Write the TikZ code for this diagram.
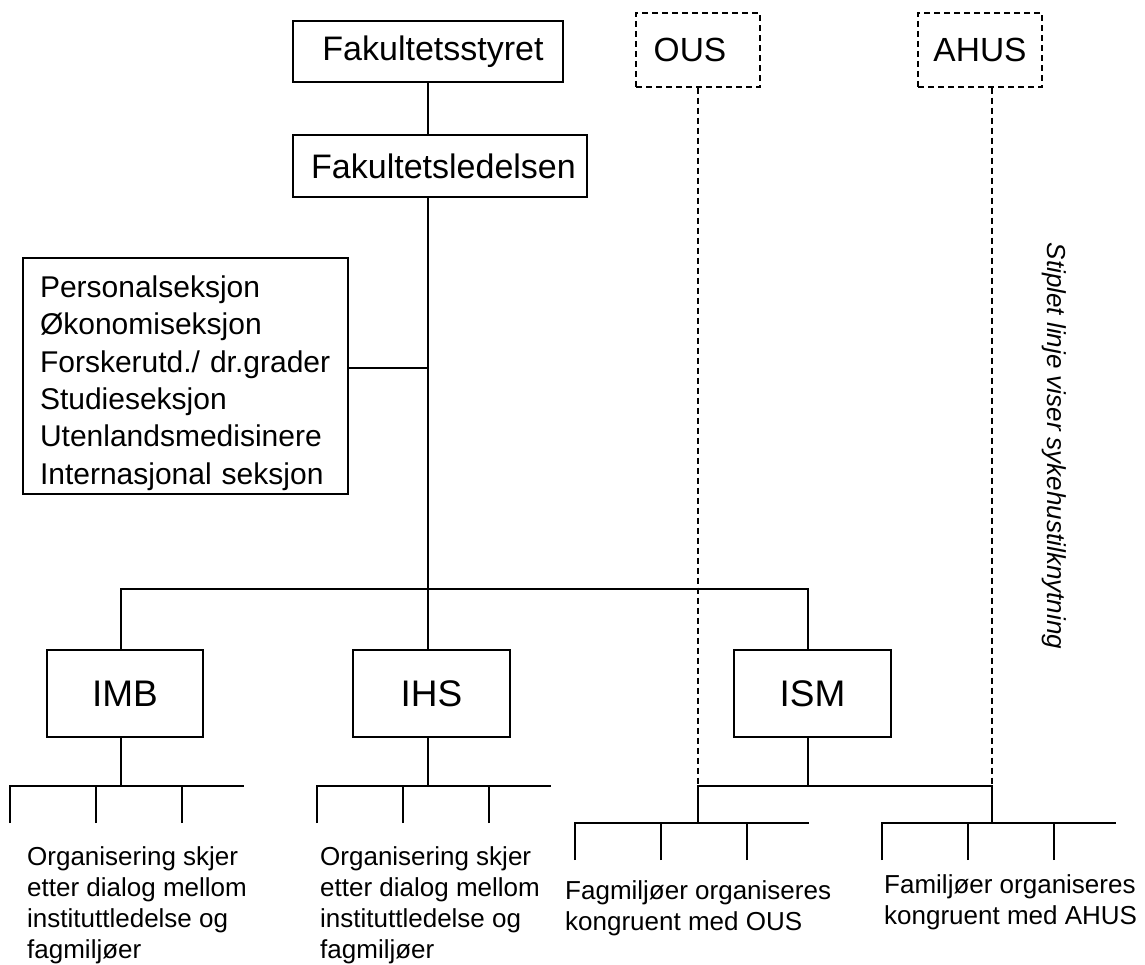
\documentclass[tikz,border=0pt]{standalone}
\usepackage{fontspec}
\setmainfont{Liberation Sans}
\begin{document}
\begin{tikzpicture}[x=1pt,y=-1pt,
 box/.style={draw, line width=1.6pt, inner sep=0pt, align=center},
 dbox/.style={draw, dash pattern=on 6pt off 4pt, line width=1.4pt, inner sep=0pt},
 link/.style={line width=1.6pt},
 dlink/.style={line width=1.4pt, dash pattern=on 6pt off 4pt},
 note/.style={align=left, inner sep=0pt, anchor=north west, font=\fontsize{26}{31}\selectfont}]
\useasboundingbox (0,0) rectangle (1145,965);

% boxes
\node[box, minimum width=270pt, minimum height=61pt, font=\fontsize{34}{40}\selectfont] (fs) at (428,51.5) {\hspace*{10pt}Fakultetsstyret};
\node[box, minimum width=294pt, minimum height=62pt, font=\fontsize{34}{40}\selectfont] (fl) at (440,166) {\hspace*{7pt}Fakultetsledelsen};
\node[box, minimum width=325pt, minimum height=236pt, text width=291pt, inner xsep=17pt, align=left, font=\fontsize{30}{37.3}\selectfont] (sec) at (185.5,376)
 {\rule{0pt}{36pt}Personalseksjon\\Økonomiseksjon\\Forskerutd./ dr.grader\\Studieseksjon\\Utenlandsmedisinere\\Internasjonal seksjon};
\node[dbox, minimum width=124pt, minimum height=74pt, font=\fontsize{33.5}{40}\selectfont] (ous) at (698,50) {\hspace*{-16pt}OUS};
\node[dbox, minimum width=124pt, minimum height=74pt, font=\fontsize{33.5}{40}\selectfont] (ahus) at (980,50) {AHUS};
\node[box, minimum width=156pt, minimum height=87pt, font=\fontsize{37}{44}\selectfont] (imb) at (125,693.5) {IMB};
\node[box, minimum width=157pt, minimum height=87pt, font=\fontsize{37}{44}\selectfont] (ihs) at (431.5,693.5) {IHS};
\node[box, minimum width=157pt, minimum height=87pt, font=\fontsize{37}{44}\selectfont] (ism) at (812.5,693.5) {ISM};

% junction coordinates
\coordinate (jsec) at (428,368);
\coordinate (bar) at (428,589);
\coordinate (barL) at (121,589);
\coordinate (barR) at (808,589);
\coordinate (ismJL) at (698,786);
\coordinate (ismJR) at (992,786);

% main tree
\draw[link] (fs.south) -- (fs.south |- fl.north);
\draw[link] (fs.south |- fl.south) -- (bar);
\draw[link] (sec.east |- jsec) -- (jsec);
\draw[link] (barL |- imb.north) -- (barL) -- (barR) -- (barR |- ism.north);
\draw[link] (bar) -- (bar |- ihs.north);

% sub bars
\foreach \g/\x/\y in {imb/10/786, ihs/317/786, ous/575/823, ahus/882/823} {
  \coordinate (\g-bl) at (\x,\y);
  \coordinate (\g-br) at (\x+234,\y);
  \coordinate (\g-t1) at (\x,\y+37);
  \coordinate (\g-t2) at (\x+86,\y+37);
  \coordinate (\g-t3) at (\x+172,\y+37);
  \draw[link] (\g-t1) -- (\g-bl) -- (\g-br);
  \draw[link] (\g-t2) -- (\g-t2 |- \g-bl);
  \draw[link] (\g-t3) -- (\g-t3 |- \g-bl);
}
\draw[link] (imb.south -| barL) -- (barL |- imb-bl);
\draw[link] (ihs.south -| bar) -- (bar |- ihs-bl);
\draw[link] (ism.south -| barR) -- (barR |- ismJL);
\draw[link] (ous-bl -| ismJL) -- (ismJL) -- (ismJR) -- (ahus-bl -| ismJR);

% hospital links
\draw[dlink] (ous.south -| ismJL) -- (ismJL);
\draw[dlink] (ahus.south -| ismJR) -- (ismJR);

% notes
\node[note] (t1) at (27,846) {Organisering skjer\\etter dialog mellom\\instituttledelse og\\fagmiljøer};
\node[note] (t2) at (320,846) {Organisering skjer\\etter dialog mellom\\instituttledelse og\\fagmiljøer};
\node[note] (t3) at (565,880) {Fagmiljøer organiseres\\kongruent med OUS};
\node[note] (t4) at (884,874) {Familjøer organiseres\\kongruent med AHUS};
\node[font=\itshape\fontsize{26}{30}\selectfont, rotate=-90, inner sep=0pt] (legend) at (1054,446) {Stiplet linje viser sykehustilknytning};
\end{tikzpicture}
\end{document}
